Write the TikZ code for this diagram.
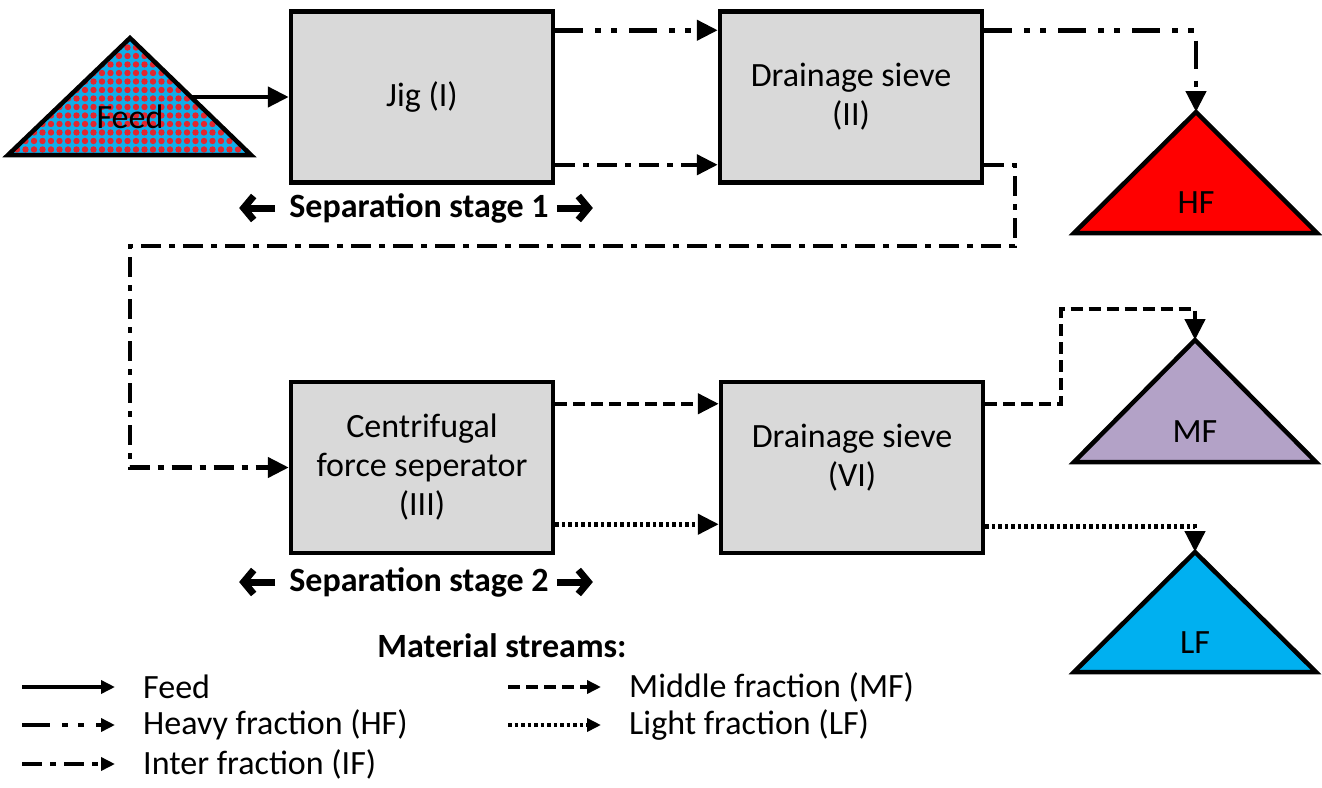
\documentclass[tikz,border=0pt]{standalone}
\usepackage{fontspec}
\setmainfont{Carlito}
\usetikzlibrary{arrows.meta,patterns.meta}
\definecolor{unitgray}{HTML}{D9D9D9}
\definecolor{feedblue}{HTML}{10AEEA}
\definecolor{feedred}{HTML}{E3262E}
\definecolor{hfred}{HTML}{FF0000}
\definecolor{mfpurple}{HTML}{B3A2C7}
\definecolor{lfblue}{HTML}{00B0F0}

\begin{document}
\begin{tikzpicture}
[x=1pt, y=-1pt,
 every node/.style={inner sep=0pt, align=center, font=\fontsize{34}{39}\selectfont},
 unit/.style={rectangle, minimum width=262pt, minimum height=171pt, fill=unitgray, line width=4.5pt, draw=black},
 heap/.style={line width=4.5pt, draw=black},
 feedarrow/.style={line width=4.5pt, -{Triangle[length=21pt, width=20pt]}},
 hfarrow/.style={feedarrow, dash pattern=on 28pt off 12pt on 6pt off 10pt on 6pt off 12pt},
 ifarrow/.style={feedarrow, dash pattern=on 20pt off 8pt on 6pt off 8pt},
 mfarrow/.style={feedarrow, dash pattern=on 12pt off 6pt},
 lfarrow/.style={feedarrow, dash pattern=on 3.5pt off 3pt},
 legtip/.style={-{Triangle[length=14pt, width=13pt]}},
 stagearrow/.style={line width=7pt, -{Straight Barb[length=10pt, width=24pt, line width=7pt]}}]
\useasboundingbox (0,0) rectangle (1322,787);

% heaps
\draw [heap, preaction={fill=feedblue}, pattern={Dots[distance=8.5pt, radius=3.2pt]}, pattern color=feedred] (8,155) -- (130,38) -- (251,155) -- cycle;
\node (feed) at (130,117) {Feed};
\coordinate (feedout) at (191,97);
\draw [heap, fill=hfred] (1196,112) -- (1317,233) -- (1074,233) -- cycle;
\coordinate (hftop) at (1196,112);
\node (HF) at (1196,203) {HF};
\draw [heap, fill=mfpurple] (1195,340) -- (1316,462) -- (1074,462) -- cycle;
\coordinate (mftop) at (1195,340);
\node (MF) at (1195,432) {MF};
\draw [heap, fill=lfblue] (1195,552) -- (1316,672) -- (1074,672) -- cycle;
\coordinate (lftop) at (1195,552);
\node (LF) at (1195,643) {LF};

% separation units
\node (I) [unit] at (422,97) {Jig (I)};
\node (II) [unit] at (851,97) {Drainage sieve\\(II)};
\node (III) [unit] at (422,467.5) {Centrifugal\\force seperator\\(III)};
\node (VI) [unit] at (852,467.5) {};
\node (VItext) at ([yshift=10pt]VI.center) {Drainage sieve\\(VI)};

% stages
\node (stage1) [font=\fontsize{34}{39}\selectfont\bfseries] at (419,208) {Separation stage 1};
\draw [stagearrow] ([xshift=-14pt]stage1.west) -- ++(-36,0);
\draw [stagearrow] ([xshift=8pt]stage1.east) -- ++(36,0);
\node (stage2) [font=\fontsize{34}{39}\selectfont\bfseries] at (419,582) {Separation stage 2};
\draw [stagearrow] ([xshift=-14pt]stage2.west) -- ++(-36,0);
\draw [stagearrow] ([xshift=8pt]stage2.east) -- ++(36,0);

% streams
\coordinate (ifturn) at (1015,246);
\coordinate (ifback) at (130,246);
\coordinate (mfturn) at (1061,309);
\draw [feedarrow] (feedout) -- (I.west);
\draw [hfarrow] ([yshift=-21pt]I.north east) -- ([yshift=-21pt]II.north west);
\draw [ifarrow] ([yshift=20pt]I.south east) -- ([yshift=20pt]II.south west);
\draw [hfarrow] ([yshift=-21pt]II.north east) -| (hftop);
\draw [ifarrow] ([yshift=20pt]II.south east) -| (ifturn) -- (ifback) |- (III.west);
\draw [mfarrow] ([yshift=-24pt]III.north east) -- ([yshift=-24pt]VI.north west);
\draw [lfarrow] ([yshift=31pt]III.south east) -- ([yshift=31pt]VI.south west);
\draw [mfarrow] ([yshift=-24pt]VI.north east) -| (mfturn) -| (mftop);
\draw [lfarrow] ([yshift=29pt]VI.south east) -| (lftop);

% legend
\node (legend) [font=\fontsize{34}{39}\selectfont\bfseries] at (502,646) {Material streams:};
\node (lfeed) [anchor=west] at (143,687) {Feed};
\node (lhf) [anchor=west] at (143,725) {Heavy fraction (HF)};
\node (lif) [anchor=west] at (143,764) {Inter fraction (IF)};
\node (lmf) [anchor=west] at (629,687) {Middle fraction (MF)};
\node (llf) [anchor=west] at (629,725) {Light fraction (LF)};
\draw [feedarrow, legtip] ([xshift=-121pt]lfeed.west) -- ([xshift=-28pt]lfeed.west);
\draw [hfarrow, legtip] ([xshift=-121pt]lhf.west) -- ([xshift=-28pt]lhf.west);
\draw [ifarrow, legtip] ([xshift=-121pt]lif.west) -- ([xshift=-28pt]lif.west);
\draw [mfarrow, legtip] ([xshift=-121pt]lmf.west) -- ([xshift=-28pt]lmf.west);
\draw [lfarrow, legtip] ([xshift=-121pt]llf.west) -- ([xshift=-28pt]llf.west);
\end{tikzpicture}
\end{document}
